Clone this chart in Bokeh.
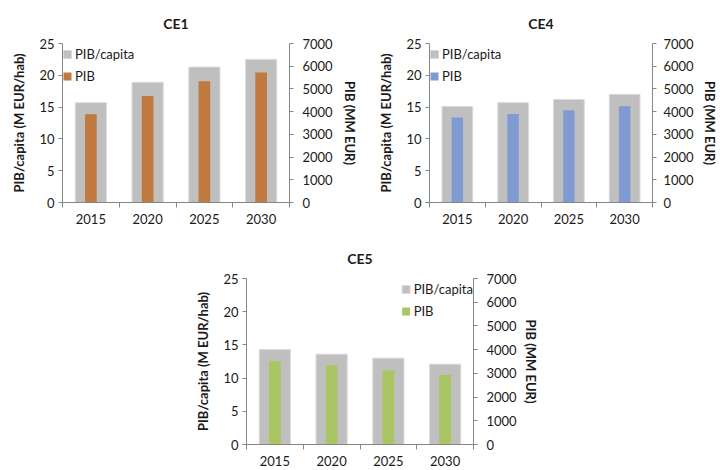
from bokeh.plotting import figure
from bokeh.models import (Range1d, LinearAxis, FixedTicker, Legend, LegendItem,
                          Spacer, ColumnDataSource)
from bokeh.layouts import column, row
from bokeh.embed import file_html
from bokeh.resources import INLINE
import numpy as np

# ---------------- data ----------------
years = ["2015", "2020", "2025", "2030"]

ce1_pc = [15.7, 18.9, 21.3, 22.5]
ce1_pib = [3890, 4690, 5340, 5720]

ce4_pc = [15.1, 15.7, 16.2, 17.0]
ce4_pib = [3740, 3900, 4060, 4240]

ce5_pc = [14.3, 13.6, 13.0, 12.1]
ce5_pib = [3510, 3340, 3120, 2930]

left_ticks = [0, 5, 10, 15, 20, 25]
right_ticks = [0, 1000, 2000, 3000, 4000, 5000, 6000, 7000]

FONT = "Lato"
GRAY = "#BFBFBF"
AXIS_C = "#868686"
TXT = "#1a1a1a"


def make_chart(title, pc, pib, color, width, height, bl, br, bt, bb,
               legend_loc, title_standoff, right_label_standoff=6,
               right_tick_standoff=9):
    n = len(years)
    xs = np.arange(n) + 0.5
    src = ColumnDataSource(dict(x=xs, pc=pc, pib=pib))
    p = figure(width=width, height=height, output_backend="svg",
               toolbar_location=None, x_range=Range1d(0, n),
               y_range=Range1d(left_ticks[0], left_ticks[-1]),
               min_border_left=bl, min_border_right=br,
               min_border_top=bt, min_border_bottom=bb,
               y_axis_location=None, x_axis_location=None)
    p.extra_y_ranges = {"pib": Range1d(right_ticks[0], right_ticks[-1])}
    p.outline_line_color = None
    p.xgrid.visible = False
    p.ygrid.visible = False
    p.background_fill_color = "white"
    p.border_fill_color = "white"

    p.title.text = title
    p.title.align = "center"
    p.title.text_font = FONT
    p.title.text_font_size = "14px"
    p.title.text_font_style = "bold"
    p.title.text_color = TXT
    p.title.standoff = title_standoff

    r1 = p.vbar(x="x", top="pc", width=0.55, bottom=0, source=src,
                fill_color=GRAY, line_color="#DADADA", line_width=1)
    r2 = p.vbar(x="x", top="pib", width=0.205, bottom=0, source=src,
                y_range_name="pib", fill_color=color, line_color=None)

    la = LinearAxis(ticker=FixedTicker(ticks=left_ticks))
    la.axis_label = "PIB/capita (M EUR/hab)"
    ra = LinearAxis(y_range_name="pib", ticker=FixedTicker(ticks=right_ticks))
    ra.axis_label = "PIB (MM EUR)"
    ba = LinearAxis(ticker=FixedTicker(ticks=list(xs),
                                       minor_ticks=list(range(n + 1))))
    ba.major_label_overrides = {float(x): y for x, y in zip(xs, years)}

    for ax in (la, ra, ba):
        ax.axis_line_color = AXIS_C
        ax.major_tick_line_color = AXIS_C
        ax.major_tick_in = 0
        ax.major_tick_out = 4
        ax.minor_tick_line_color = None
        ax.major_label_text_font = FONT
        ax.major_label_text_font_size = "13px"
        ax.major_label_text_color = TXT
        ax.axis_label_text_font = FONT
        ax.axis_label_text_font_size = "13px"
        ax.axis_label_text_font_style = "bold"
        ax.axis_label_text_color = TXT
    la.major_label_standoff = 4
    la.axis_label_standoff = 9
    ra.major_label_standoff = right_tick_standoff
    ra.axis_label_standoff = right_label_standoff
    ba.major_tick_line_color = None
    ba.major_tick_out = 5
    ba.minor_tick_line_color = AXIS_C
    ba.minor_tick_in = 0
    ba.minor_tick_out = 5
    ba.major_label_standoff = 6

    p.add_layout(la, "left")
    p.add_layout(ra, "right")
    p.add_layout(ba, "below")

    leg = Legend(items=[LegendItem(label="PIB/capita", renderers=[r1]),
                        LegendItem(label="PIB", renderers=[r2])],
                 location=legend_loc)
    leg.margin = 0
    leg.padding = 7
    leg.spacing = 0
    leg.glyph_width = 10
    leg.glyph_height = 10
    leg.label_height = 22
    leg.label_standoff = 3
    leg.label_text_font = FONT
    leg.label_text_font_size = "13px"
    leg.label_text_color = TXT
    leg.border_line_color = None
    leg.background_fill_alpha = 0
    p.add_layout(leg)
    return p


p1 = make_chart("CE1", ce1_pc, ce1_pib, "#C0793E", 360, 235,
                62, 71, 43, 33, "top_left", 23)
p2 = make_chart("CE4", ce4_pc, ce4_pib, "#7F9BD1", 360, 235,
                69, 62, 43, 33, "top_left", 23,
                right_label_standoff=5, right_tick_standoff=7)
p3 = make_chart("CE5", ce5_pc, ce5_pib, "#A9C663", 357, 235,
                60, 70, 43, 26, "top_right", 23,
                right_label_standoff=3, right_tick_standoff=9)

layout = column(row(p1, p2), row(Spacer(width=186, height=235), p3))

open("out.html", "w").write(file_html(layout, INLINE))
